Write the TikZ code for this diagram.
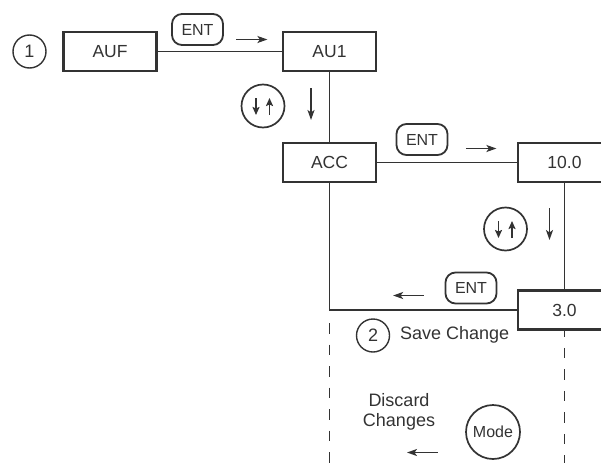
\documentclass[tikz,border=0pt]{standalone}
\usepackage{fontspec}
\setmainfont{Liberation Sans}
\usetikzlibrary{arrows.meta}
\definecolor{inkgray}{HTML}{333333}
\tikzstyle{block} = [rectangle, draw=inkgray, line width=2.6pt, fill=white, text=inkgray,
	minimum width=93pt, minimum height=39pt, font=\fontsize{17.5}{20}\selectfont]
\tikzstyle{key} = [rectangle, draw=inkgray, line width=1.8pt, rounded corners=10pt, text=inkgray,
	minimum width=51pt, minimum height=31pt, font=\fontsize{16}{19}\selectfont]
\tikzstyle{num} = [circle, draw=inkgray, line width=1.4pt, text=inkgray, inner sep=0pt,
	minimum size=33pt, font=\fontsize{18}{21}\selectfont]
\tikzstyle{roundkey} = [circle, draw=inkgray, line width=1.7pt, text=inkgray, inner sep=0pt,
	minimum size=43pt, font=\fontsize{16}{19}\selectfont]
\tikzstyle{note} = [text=inkgray, inner sep=0pt, font=\fontsize{18}{20}\selectfont]
\tikzstyle{link} = [draw=inkgray, line width=1.5pt]
\tikzstyle{move} = [draw=inkgray, line width=1.5pt, -{Stealth[length=10pt,width=7pt,inset=2.5pt]}]
\tikzstyle{sym} = [draw=inkgray, line width=1.8pt, -{Stealth[length=8pt,width=7pt,inset=1.5pt]}]
\tikzstyle{dashline} = [draw=inkgray, line width=1.5pt, dash pattern=on 10.5pt off 11pt]

\begin{document}
\begin{tikzpicture}[x=1pt, y=-1pt, node distance=111pt]
		\clip (0,0) rectangle (601,463);
		%Place nodes
		\node [num] (one) at (29.5,51.5) {1};
		\node [block] (auf) at (110,51.5) {AUF};
		\node [block, right of=auf, node distance=219.5pt] (au1) {AU1};
		\node [block, below of=au1] (acc) {ACC};
		\node [block, right of=acc, node distance=235pt] (v10) {10.0};
		\node [block, below of=v10, node distance=147.5pt] (v3) {3.0};
		
		\node [key] (ent1) at (197.5,29.5) {ENT};
		\node [key] (ent2) at (422,139.5) {ENT};
		\node [key] (ent3) at (471,288) {ENT};
		\node [roundkey] (ud1) at (263,106) {};
		\node [roundkey] (ud2) at (505.5,229) {};
		
		\node [num] (two) at (373,335.5) {2};
		\node [note, anchor=west] (save) at (400,334.5) {Save Change};
		\node [note, align=center] (discard) at (399,412) {Discard\\Changes};
		\node [roundkey, minimum size=54pt] (mode) at (493,432) {Mode};
		
		%Draw edges
		\draw [link] (auf) -- (au1);
		\draw [link] (au1) -- (acc);
		\draw [link] (acc) -- (v10);
		\draw [link] (v10) -- (v3);
		\draw [link] (v3.west) -| (acc.south);
		
		\draw [dashline] (acc.south |- 0,323) -- (acc.south |- 0,463);
		\draw [dashline, dash phase=4.5pt] (v3.south) -- (v3.south |- 0,463);
		
		%Direction arrows
		\draw [move] ([shift={(12.5,10)}]ent1.east) -- ++(31,0);
		\draw [move] ([shift={(17.5,9)}]ent2.east) -- ++(30.5,0);
		\draw [move] ([shift={(-21,7.5)}]ent3.west) -- ++(-30.5,0);
		\draw [move] ([shift={(48,-18)}]ud1.center) -- ++(0,32);
		\draw [move] ([shift={(44,-21)}]ud2.center) -- ++(0,32);
		\draw [move] ([shift={(-55.5,20.5)}]mode.center) -- ++(-30.5,0);
		
		\foreach \c in {ud1,ud2} {
			\draw [sym] ([shift={(-7,-8)}]\c.center) -- ([shift={(-7,9)}]\c.center);
			\draw [sym] ([shift={(6.5,9)}]\c.center) -- ([shift={(6.5,-8)}]\c.center);
		}
		
	\end{tikzpicture}
\end{document}
